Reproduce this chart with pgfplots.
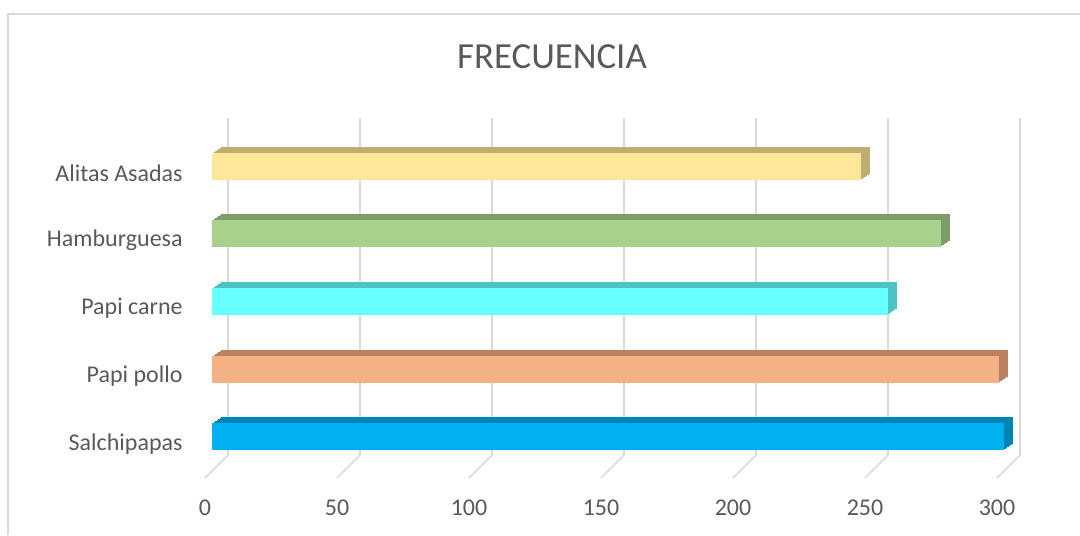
\documentclass[border=0pt]{standalone}
\usepackage{pgfplots}
\pgfplotsset{compat=1.18}
\usepackage{fontspec}
\setmainfont{Carlito}
\definecolor{txt}{HTML}{595959}
\definecolor{gridc}{HTML}{D9D9D9}
\definecolor{cS}{HTML}{00B0F0}\definecolor{cSd}{HTML}{0083B5}
\definecolor{cP}{HTML}{F4B183}\definecolor{cPd}{HTML}{B98160}
\definecolor{cC}{HTML}{66FFFF}\definecolor{cCd}{HTML}{4CC2C2}
\definecolor{cH}{HTML}{A9D18E}\definecolor{cHd}{HTML}{7C9C68}
\definecolor{cA}{HTML}{FFE699}\definecolor{cAd}{HTML}{BEAC70}
\pgfplotsset{
  b/.style={xbar, bar width=13.5pt, bar shift=0pt, draw=none},
}
\begin{document}
\begin{tikzpicture}
\useasboundingbox (0,0) rectangle (540pt,267.5pt);
\draw[gridc, line width=1pt] (4pt,0) -- (4pt,260.5pt) -- (541pt,260.5pt);
\node[font=\fontsize{18.4}{22}\selectfont, text=txt] at (276pt,239.25pt) {FRECUENCIA};
\begin{axis}[
  at={(106pt,40pt)}, anchor=south west,
  scale only axis, width=396pt, height=168.5pt,
  xmin=0, xmax=300, ymin=-0.27, ymax=4.71,
  axis line style={draw=none},
  major tick length=0pt,
  xtick={0,50,100,150,200,250,300},
  xticklabels={0,50,100,150,200,250,300},
  ytick={0,1,2,3,4},
  yticklabels={Salchipapas,Papi pollo,Papi carne,Hamburguesa,Alitas Asadas},
  xticklabel style={anchor=center, inner sep=0pt, yshift=-26.5pt, xshift=-3.5pt, font=\fontsize{12}{14}\selectfont, text=txt},
  yticklabel style={anchor=east, inner sep=0pt, xshift=-14.5pt, yshift=-3.5pt, font=\fontsize{12}{14}\selectfont, text=txt},
  xmajorgrids,
  major grid style={draw=gridc, line width=0.75pt, xshift=8pt},
  clip=false,
]
\pgfplotsinvokeforeach{0,50,100,150,200,250,300}{
  \draw[gridc, line width=0.75pt] ([xshift=8pt]axis cs:#1,-0.27) -- ++(-11.5pt,-11.5pt);
}
% Salchipapas
\pgfplotsinvokeforeach{6,5,4,3,2,1}{
  \addplot[b, fill=cSd, xshift=#1*0.75pt, yshift=#1*0.5pt] coordinates {(300,0)};}
\addplot[b, fill=cS] coordinates {(300,0)};
% Papi pollo
\pgfplotsinvokeforeach{6,5,4,3,2,1}{
  \addplot[b, fill=cPd, xshift=#1*0.75pt, yshift=#1*0.5pt] coordinates {(298,1)};}
\addplot[b, fill=cP] coordinates {(298,1)};
% Papi carne
\pgfplotsinvokeforeach{6,5,4,3,2,1}{
  \addplot[b, fill=cCd, xshift=#1*0.75pt, yshift=#1*0.5pt] coordinates {(256,2)};}
\addplot[b, fill=cC] coordinates {(256,2)};
% Hamburguesa
\pgfplotsinvokeforeach{6,5,4,3,2,1}{
  \addplot[b, fill=cHd, xshift=#1*0.75pt, yshift=#1*0.5pt] coordinates {(276,3)};}
\addplot[b, fill=cH] coordinates {(276,3)};
% Alitas Asadas
\pgfplotsinvokeforeach{6,5,4,3,2,1}{
  \addplot[b, fill=cAd, xshift=#1*0.75pt, yshift=#1*0.5pt] coordinates {(246,4)};}
\addplot[b, fill=cA] coordinates {(246,4)};
\end{axis}
\end{tikzpicture}
\end{document}
